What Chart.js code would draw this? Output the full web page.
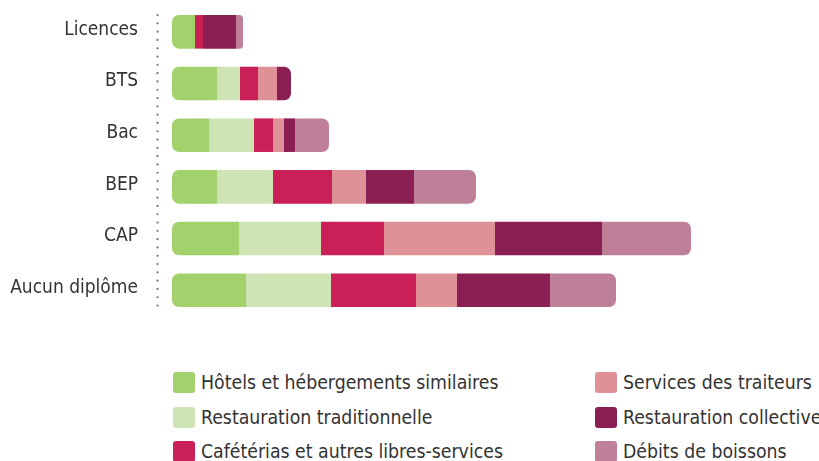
<!DOCTYPE html>
<html>
<head>
<meta charset="utf-8">
<script src="https://cdn.jsdelivr.net/npm/chart.js@4"></script>
<style>
  body { margin: 0; background: #fff; }
  #wrap { position: relative; width: 819px; height: 461px; }
  #myChart { position: absolute; left: 0; top: 0; }
  #legend { position: absolute; left: 173px; top: 371px; width: 646px; }
  .item { position: absolute; display: flex; align-items: center; white-space: nowrap;
          font-family: "DejaVu Sans Condensed", "DejaVu Sans", sans-serif; font-size: 19.3px; color: #333; }
  .box { width: 22px; height: 21px; border-radius: 3px; margin-right: 6px; }
</style>
</head>
<body>
<div id="wrap">
  <canvas id="myChart" width="819" height="322"></canvas>
  <div id="legend"></div>
</div>
<script>
const categories = ['Licences', 'BTS', 'Bac', 'BEP', 'CAP', 'Aucun diplôme'];

const hotels     = [23, 45, 37, 45, 67, 74];
const tradi      = [0, 23, 45, 56, 82, 85];
const cafeterias = [8, 18, 19, 59, 63, 85];
const traiteurs  = [0, 19, 11, 34, 111, 41];
const collective = [33, 14, 11, 48, 107, 93];
const debits     = [7, 0, 34, 62, 89, 66];

const seriesNames = [
    'Hôtels et hébergements similaires',
    'Restauration traditionnelle',
    'Cafétérias et autres libres-services',
    'Services des traiteurs',
    'Restauration collective',
    'Débits de boissons'
];
const series = [hotels, tradi, cafeterias, traiteurs, collective, debits];
const colors = ['#a3d16b', '#cfe4b4', '#c92157', '#de9197', '#8b1e53', '#bd8098'];

const labelFont = '"DejaVu Sans Condensed", "DejaVu Sans", sans-serif';

// round only the two outer ends of each stacked bar
function cornerRadius(ctx) {
    if (ctx.type !== 'data') return 0;
    const i = ctx.dataIndex;
    const vals = series.map(s => s[i]);
    let first = vals.findIndex(v => v > 0);
    let last = -1;
    vals.forEach((v, k) => { if (v > 0) last = k; });
    const r = 7;
    const d = ctx.datasetIndex;
    return {
        topLeft: d === first ? r : 0,
        bottomLeft: d === first ? r : 0,
        topRight: d === last ? r : 0,
        bottomRight: d === last ? r : 0
    };
}

// dotted line next to the category labels
const dottedAxis = {
    id: 'dottedAxis',
    beforeDatasetsDraw(chart) {
        const bars = chart.getDatasetMeta(0).data;
        const first = bars[0], last = bars[bars.length - 1];
        const top = first.y - first.height / 2;
        const bottom = last.y + last.height / 2;
        const x = chart.chartArea.left + 0.5;
        const c = chart.ctx;
        c.save();
        c.fillStyle = '#6d7186';
        for (let y = top; y <= bottom + 0.5; y += 8.3) {
            c.beginPath();
            c.arc(x, y, 1.1, 0, Math.PI * 2);
            c.fill();
        }
        c.restore();
    }
};

const ctx = document.getElementById('myChart').getContext('2d');
const chart = new Chart(ctx, {
    type: 'bar',
    data: {
        labels: categories,
        datasets: series.map((s, k) => ({
            label: seriesNames[k],
            data: s,
            backgroundColor: colors[k],
            borderWidth: 0,
            borderSkipped: false,
            borderRadius: cornerRadius,
            barPercentage: 0.65,
            categoryPercentage: 1
        }))
    },
    options: {
        indexAxis: 'y',
        animation: false,
        responsive: false,
        layout: { padding: { top: 6, bottom: 6, left: 10, right: 0 } },
        scales: {
            x: {
                stacked: true,
                display: false,
                min: -15,
                max: 647
            },
            y: {
                stacked: true,
                // tick marks hidden, their length only pushes the labels left
                grid: { display: false, drawTicks: true, tickLength: 19 },
                border: { display: false },
                ticks: {
                    padding: 0,
                    labelOffset: -2,
                    color: '#333',
                    font: { family: labelFont, size: 19, lineHeight: 0.5 }
                },
                afterFit: scale => { scale.width = 147; }
            }
        },
        plugins: {
            legend: { display: false },
            tooltip: { enabled: false }
        }
    },
    plugins: [dottedAxis]
});

// legend in two columns, built from the chart's datasets
const legendEl = document.getElementById('legend');
const colX = [0, 422];
const rowY = [0, 34.5, 69];
chart.data.datasets.forEach((ds, k) => {
    const item = document.createElement('div');
    item.className = 'item';
    item.style.left = colX[Math.floor(k / 3)] + 'px';
    item.style.top = rowY[k % 3] + 'px';
    const box = document.createElement('span');
    box.className = 'box';
    box.style.background = ds.backgroundColor;
    const txt = document.createElement('span');
    txt.textContent = ds.label;
    item.appendChild(box);
    item.appendChild(txt);
    legendEl.appendChild(item);
});
</script>
</body>
</html>
